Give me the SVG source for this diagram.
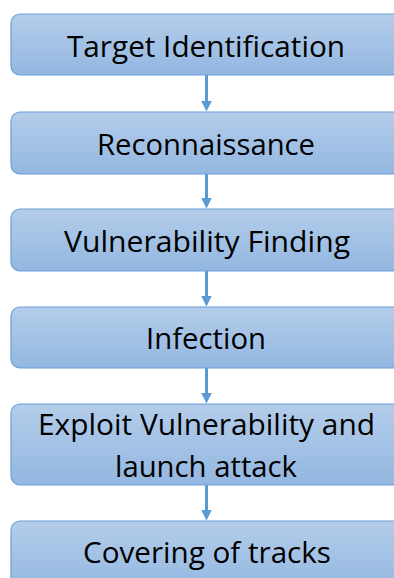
<svg xmlns="http://www.w3.org/2000/svg" width="394" height="578" viewBox="0 0 394 578">
<defs>
<linearGradient id="g" x1="0" y1="0" x2="0" y2="1">
<stop offset="0" stop-color="#b4cdea"/>
<stop offset="1" stop-color="#93b7e1"/>
</linearGradient>
<marker id="ah" markerWidth="11" markerHeight="11" viewBox="0 0 11 11" refX="0.5" refY="5.5" orient="auto" markerUnits="userSpaceOnUse">
<path d="M0,0 L11,5.5 L0,11 Z" fill="#5b9bd5"/>
</marker>
<style>
.box{fill:url(#g);stroke:#6a9fd8;stroke-width:1.2}
.t{font-family:"Open Sans","Liberation Sans",sans-serif;font-size:29px;fill:#000;text-anchor:middle}
.c{stroke:#5b9bd5;stroke-width:3;fill:none}
</style>
</defs>
<rect width="394" height="578" fill="#fff"/>
<g id="connectors">
<line class="c" x1="206.5" y1="75" x2="206.5" y2="101" marker-end="url(#ah)"/>
<line class="c" x1="206.5" y1="174" x2="206.5" y2="198" marker-end="url(#ah)"/>
<line class="c" x1="206.5" y1="271" x2="206.5" y2="296" marker-end="url(#ah)"/>
<line class="c" x1="206.5" y1="368" x2="206.5" y2="393" marker-end="url(#ah)"/>
<line class="c" x1="206.5" y1="485" x2="206.5" y2="510" marker-end="url(#ah)"/>
</g>
<g id="n1">
<rect class="box" x="11" y="14" width="400" height="61" rx="9"/>
<text class="t" x="206" y="57" textLength="278" lengthAdjust="spacingAndGlyphs">Target Identification</text>
</g>
<g id="n2">
<rect class="box" x="11" y="112" width="400" height="62" rx="9"/>
<text class="t" x="206" y="155" textLength="218" lengthAdjust="spacingAndGlyphs">Reconnaissance</text>
</g>
<g id="n3">
<rect class="box" x="11" y="209" width="400" height="62" rx="9"/>
<text class="t" x="207" y="252" textLength="286" lengthAdjust="spacingAndGlyphs">Vulnerability Finding</text>
</g>
<g id="n4">
<rect class="box" x="11" y="307" width="400" height="61" rx="9"/>
<text class="t" x="206" y="349" textLength="120" lengthAdjust="spacingAndGlyphs">Infection</text>
</g>
<g id="n5">
<rect class="box" x="11" y="404" width="400" height="81" rx="9"/>
<text class="t" x="206.5" y="435" textLength="337" lengthAdjust="spacingAndGlyphs">Exploit Vulnerability and</text>
<text class="t" x="206" y="477" textLength="182" lengthAdjust="spacingAndGlyphs">launch attack</text>
</g>
<g id="n6">
<rect class="box" x="11" y="521" width="400" height="70" rx="9"/>
<text class="t" x="207" y="563" textLength="248" lengthAdjust="spacingAndGlyphs">Covering of tracks</text>
</g>
</svg>
